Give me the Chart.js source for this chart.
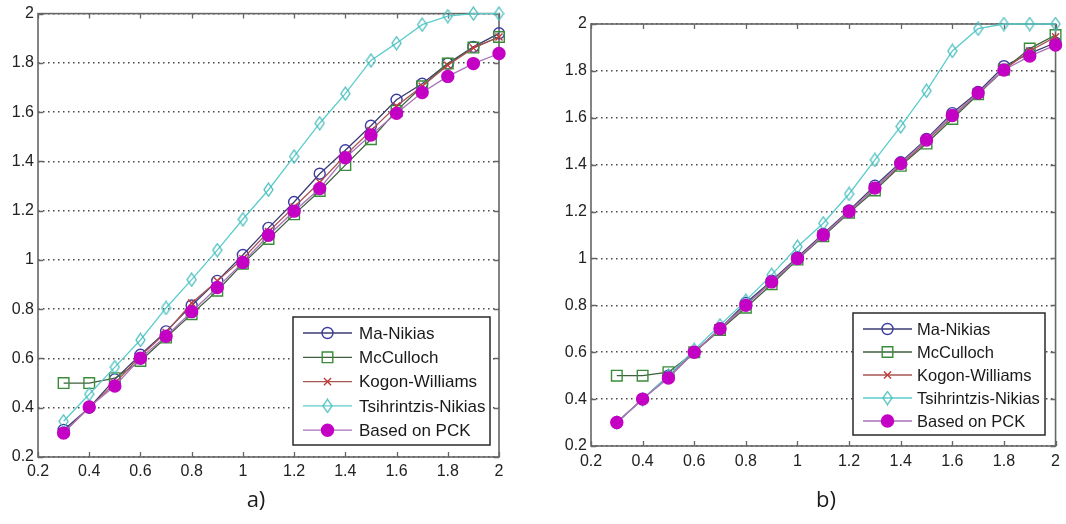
<!DOCTYPE html>
<html>
<head>
<meta charset="utf-8">
<script src="https://cdn.jsdelivr.net/npm/chart.js@4/dist/chart.umd.min.js"></script>
<style>
  html, body { margin: 0; padding: 0; background: #fff; width: 1066px; height: 524px; overflow: hidden; }
  .panel { position: absolute; top: 0; width: 533px; height: 524px; }
  #panelA { left: 0; }
  #panelB { left: 533px; }
</style>
</head>
<body>
<div class="panel" id="panelA"><canvas id="chartA" width="533" height="524"></canvas></div>
<div class="panel" id="panelB"><canvas id="chartB" width="533" height="524"></canvas></div>
<script>
// ---- data ----
const seriesNames = ['Ma-Nikias', 'McCulloch', 'Kogon-Williams', 'Tsihrintzis-Nikias', 'Based on PCK'];
const xValues = [0.3, 0.4, 0.5, 0.6, 0.7, 0.8, 0.9, 1.0, 1.1, 1.2, 1.3, 1.4, 1.5, 1.6, 1.7, 1.8, 1.9, 2.0];

const xTickValues = [0.2, 0.4, 0.6, 0.8, 1.0, 1.2, 1.4, 1.6, 1.8, 2.0];
const xTickLabels = ['0.2', '0.4', '0.6', '0.8', '1', '1.2', '1.4', '1.6', '1.8', '2'];
const yTickValues = [0.2, 0.4, 0.6, 0.8, 1.0, 1.2, 1.4, 1.6, 1.8, 2.0];
const yTickLabels = ['0.2', '0.4', '0.6', '0.8', '1', '1.2', '1.4', '1.6', '1.8', '2'];

// panel a)
const maNikiasA    = [0.31, 0.40, 0.515, 0.615, 0.71, 0.815, 0.915, 1.02, 1.13, 1.235, 1.35, 1.445, 1.545, 1.65, 1.715, 1.797, 1.865, 1.92];
const mcCullochA   = [0.50, 0.50, 0.52, 0.59, 0.685, 0.78, 0.875, 0.985, 1.085, 1.185, 1.28, 1.385, 1.49, 1.605, 1.705, 1.797, 1.862, 1.905];
const kogonA       = [0.30, 0.40, 0.50, 0.61, 0.705, 0.825, 0.915, 1.005, 1.115, 1.215, 1.315, 1.425, 1.525, 1.625, 1.705, 1.79, 1.86, 1.905];
const tsihrintzisA = [0.345, 0.455, 0.565, 0.675, 0.805, 0.92, 1.04, 1.165, 1.285, 1.42, 1.555, 1.675, 1.81, 1.88, 1.955, 1.99, 2.0, 2.0];
const pckA         = [0.297, 0.403, 0.488, 0.601, 0.69, 0.79, 0.888, 0.99, 1.10, 1.198, 1.29, 1.415, 1.507, 1.595, 1.68, 1.745, 1.797, 1.838];

// panel b)
const maNikiasB    = [0.30, 0.40, 0.50, 0.60, 0.70, 0.81, 0.905, 1.005, 1.105, 1.205, 1.31, 1.41, 1.51, 1.62, 1.71, 1.82, 1.875, 1.92];
const mcCullochB   = [0.50, 0.50, 0.515, 0.60, 0.695, 0.79, 0.89, 0.995, 1.095, 1.195, 1.29, 1.395, 1.49, 1.595, 1.70, 1.805, 1.895, 1.953];
const kogonB       = [0.30, 0.40, 0.495, 0.60, 0.70, 0.80, 0.90, 1.00, 1.10, 1.20, 1.30, 1.40, 1.50, 1.605, 1.705, 1.805, 1.885, 1.945];
const tsihrintzisB = [0.30, 0.40, 0.50, 0.61, 0.715, 0.82, 0.93, 1.05, 1.15, 1.275, 1.42, 1.563, 1.715, 1.885, 1.98, 2.0, 2.0, 2.0];
const pckB         = [0.30, 0.40, 0.49, 0.60, 0.70, 0.80, 0.90, 1.00, 1.10, 1.20, 1.30, 1.405, 1.505, 1.61, 1.706, 1.804, 1.863, 1.91];

// ---- styling ----
Chart.defaults.font.family = '"Liberation Sans", Arial, sans-serif';

function makeDiamond(color) {
  const c = document.createElement('canvas');
  c.width = 11; c.height = 15;
  const g = c.getContext('2d');
  g.strokeStyle = color;
  g.lineWidth = 1.3;
  g.beginPath();
  g.moveTo(5.5, 1); g.lineTo(10, 7.5); g.lineTo(5.5, 14); g.lineTo(1, 7.5); g.closePath();
  g.stroke();
  return c;
}

const clear = 'rgba(0,0,0,0)';
const seriesStyles = [
  { line: '#3b3b72', mark: '#3c3ca2', fill: clear, shape: 'circle', r: 5.5 },
  { line: '#3f5f3f', mark: '#3a8c3a', fill: clear, shape: 'rect', r: 7.5 },
  { line: '#a85454', mark: '#c23a3a', fill: clear, shape: 'crossRot', r: 5 },
  { line: '#5ccccc', mark: '#48bcbc', fill: clear, shape: makeDiamond('#48bcbc'), r: 6 },
  { line: '#a872b8', mark: '#c400c4', fill: '#c400c4', shape: 'circle', r: 6 }
];

function labelFor(values, labels, v) {
  const i = values.findIndex(t => Math.abs(t - v) < 1e-9);
  return i >= 0 ? labels[i] : '';
}

function buildDatasets(seriesList) {
  return seriesList.map((vals, i) => {
    const s = seriesStyles[i];
    return {
      label: seriesNames[i],
      data: xValues.map((x, k) => ({ x: x, y: vals[k] })),
      borderColor: s.line,
      borderWidth: 1.3,
      pointStyle: s.shape,
      pointRadius: s.r,
      pointBorderColor: s.mark,
      pointBackgroundColor: s.fill,
      pointBorderWidth: 1.4,
      tension: 0,
      clip: false,
      order: seriesList.length - i
    };
  });
}

// axes box with inward tick marks on all four sides
const framePlugin = {
  id: 'frame',
  beforeDatasetsDraw(chart) {
    const { ctx, chartArea: a, scales: { x, y } } = chart;
    ctx.save();
    ctx.strokeStyle = '#666666';
    ctx.lineWidth = 1.6;
    ctx.strokeRect(a.left, a.top, a.right - a.left, a.bottom - a.top);
    ctx.lineWidth = 1.3;
    const t = 5;
    ctx.beginPath();
    x.ticks.forEach(tk => {
      const px = Math.round(x.getPixelForValue(tk.value)) + 0.5;
      ctx.moveTo(px, a.bottom); ctx.lineTo(px, a.bottom - t);
      ctx.moveTo(px, a.top); ctx.lineTo(px, a.top + t);
    });
    y.ticks.forEach(tk => {
      const py = Math.round(y.getPixelForValue(tk.value)) + 0.5;
      ctx.moveTo(a.left, py); ctx.lineTo(a.left + t, py);
      ctx.moveTo(a.right, py); ctx.lineTo(a.right - t, py);
    });
    ctx.stroke();
    ctx.restore();
  }
};

// boxed legend inside the plot area
const boxLegendPlugin = {
  id: 'boxLegend',
  afterDatasetsDraw(chart, args, o) {
    const { ctx } = chart;
    ctx.save();
    ctx.fillStyle = '#ffffff';
    ctx.fillRect(o.left, o.top, o.width, o.height);
    ctx.strokeStyle = '#2a2a2a';
    ctx.lineWidth = 1.5;
    ctx.strokeRect(o.left, o.top, o.width, o.height);
    chart.data.datasets.forEach((ds, i) => {
      const cy = o.top + o.firstRow + i * o.rowGap;
      ctx.strokeStyle = ds.borderColor;
      ctx.lineWidth = ds.borderWidth;
      ctx.beginPath();
      ctx.moveTo(o.left + o.sampleFrom, cy);
      ctx.lineTo(o.left + o.sampleTo, cy);
      ctx.stroke();
      ctx.fillStyle = ds.pointBackgroundColor;
      ctx.strokeStyle = ds.pointBorderColor;
      ctx.lineWidth = ds.pointBorderWidth;
      Chart.helpers.drawPoint(ctx, {
        pointStyle: ds.pointStyle, radius: ds.pointRadius, rotation: 0, borderWidth: ds.pointBorderWidth
      }, o.left + (o.sampleFrom + o.sampleTo) / 2, cy);
      ctx.fillStyle = '#1a1a1a';
      ctx.font = o.font;
      ctx.textAlign = 'left';
      ctx.textBaseline = 'middle';
      ctx.fillText(ds.label, o.left + o.textFrom, cy + 1);
    });
    ctx.restore();
  }
};

// panel caption under the axis
const captionPlugin = {
  id: 'caption',
  afterDraw(chart, args, o) {
    const { ctx } = chart;
    ctx.save();
    ctx.fillStyle = '#1c1c1c';
    ctx.font = '22px "Open Sans", "DejaVu Sans", sans-serif';
    ctx.textAlign = 'center';
    ctx.textBaseline = 'middle';
    ctx.fillText(o.text, o.x, o.y);
    ctx.restore();
  }
};

function makeChart(canvasId, seriesList, geo, legendOpts, captionOpts) {
  return new Chart(document.getElementById(canvasId), {
    type: 'line',
    data: { datasets: buildDatasets(seriesList) },
    options: {
      responsive: false,
      animation: false,
      events: [],
      layout: { padding: { left: 0, top: geo.top, right: geo.right, bottom: 0 } },
      plugins: {
        legend: { display: false },
        tooltip: { enabled: false },
        boxLegend: legendOpts,
        caption: captionOpts
      },
      scales: {
        x: {
          type: 'linear', min: 0.2, max: 2,
          afterBuildTicks: s => { s.ticks = xTickValues.map(v => ({ value: v })); },
          afterFit: s => { s.height = geo.xHeight; },
          ticks: {
            callback: v => labelFor(xTickValues, xTickLabels, v),
            autoSkip: false, maxRotation: 0, padding: geo.xPad,
            color: '#222222', font: { size: 16 }
          },
          grid: { display: false, drawTicks: false },
          border: { display: false }
        },
        y: {
          type: 'linear', min: 0.2, max: 2,
          afterBuildTicks: s => { s.ticks = yTickValues.map(v => ({ value: v })); },
          afterFit: s => { s.width = geo.yWidth; },
          ticks: {
            callback: v => labelFor(yTickValues, yTickLabels, v),
            autoSkip: false, padding: 4,
            color: '#222222', font: { size: 16 }
          },
          grid: { color: '#4a4a4a', lineWidth: 1.5, drawTicks: false },
          border: { display: false, dash: [1.5, 3.5] }
        }
      }
    },
    plugins: [framePlugin, boxLegendPlugin, captionPlugin]
  });
}

makeChart('chartA',
  [maNikiasA, mcCullochA, kogonA, tsihrintzisA, pckA],
  { top: 13, right: 34, xHeight: 67, yWidth: 38, xPad: 5 },
  { left: 293, top: 317, width: 197, height: 128, firstRow: 16, rowGap: 24.3,
    sampleFrom: 10, sampleTo: 59, textFrom: 66, font: '17px "Liberation Sans", Arial, sans-serif' },
  { text: 'a)', x: 256, y: 501 });

makeChart('chartB',
  [maNikiasB, mcCullochB, kogonB, tsihrintzisB, pckB],
  { top: 24, right: 7, xHeight: 78, yWidth: 58, xPad: 6 },
  { left: 320, top: 313, width: 192, height: 122, firstRow: 16, rowGap: 23,
    sampleFrom: 10, sampleTo: 59, textFrom: 64, font: '16.5px "Liberation Sans", Arial, sans-serif' },
  { text: 'b)', x: 293, y: 501 });
</script>
</body>
</html>
